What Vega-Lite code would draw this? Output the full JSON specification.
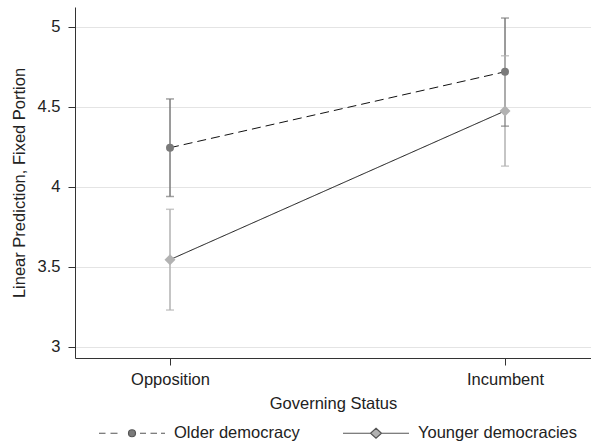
{
  "$schema": "https://vega.github.io/schema/vega-lite/v6.json",
  "width": 516,
  "height": 351,
  "autosize": {"type": "none"},
  "padding": {"left": 75, "top": 7, "right": 0, "bottom": 85},
  "background": "white",
  "config": {
    "font": "Liberation Sans",
    "view": {"stroke": null},
    "axis": {
      "domainColor": "#333333",
      "domainWidth": 1,
      "tickColor": "#333333",
      "tickSize": 7,
      "tickWidth": 1,
      "labelFont": "Liberation Sans",
      "labelFontSize": 16.5,
      "labelColor": "#222222",
      "titleFont": "Liberation Sans",
      "titleFontSize": 16.5,
      "titleFontWeight": "normal",
      "titleColor": "#222222"
    }
  },
  "data": {
    "values": [
      {"group": "Older democracy", "x": 0, "est": 4.245, "lo": 3.94, "hi": 4.55},
      {"group": "Older democracy", "x": 1, "est": 4.72, "lo": 4.38, "hi": 5.056},
      {"group": "Younger democracies", "x": 0, "est": 3.545, "lo": 3.23, "hi": 3.86},
      {"group": "Younger democracies", "x": 1, "est": 4.475, "lo": 4.13, "hi": 4.82}
    ]
  },
  "layer": [
    {
      "mark": {"type": "rule", "strokeWidth": 1.5},
      "encoding": {
        "x": {
          "field": "x", "type": "quantitative",
          "scale": {"domain": [-0.2836, 1.2567], "nice": false, "zero": false},
          "axis": {
            "title": "Governing Status",
            "values": [0, 1],
            "labelExpr": "datum.value == 0 ? 'Opposition' : 'Incumbent'",
            "grid": false,
            "labelFlush": false,
            "labelPadding": 6,
            "titlePadding": 8
          }
        },
        "y": {
          "field": "lo", "type": "quantitative",
          "scale": {"domain": [2.93, 5.125], "nice": false, "zero": false},
          "axis": {
            "title": "Linear Prediction, Fixed Portion",
            "values": [3, 3.5, 4, 4.5, 5],
            "format": "~g",
            "grid": true,
            "gridColor": "#e4e4e4",
            "gridWidth": 1,
            "labelPadding": 8,
            "titlePadding": 10
          }
        },
        "y2": {"field": "hi"},
        "color": {
          "field": "group", "type": "nominal",
          "scale": {"range": ["#7a7a7a", "#b2b2b2"]},
          "legend": null
        }
      }
    },
    {
      "mark": {"type": "tick", "orient": "horizontal", "size": 8, "thickness": 1.5},
      "encoding": {
        "x": {"field": "x", "type": "quantitative"},
        "y": {"field": "lo", "type": "quantitative"},
        "color": {"field": "group", "type": "nominal", "legend": null}
      }
    },
    {
      "mark": {"type": "tick", "orient": "horizontal", "size": 8, "thickness": 1.5},
      "encoding": {
        "x": {"field": "x", "type": "quantitative"},
        "y": {"field": "hi", "type": "quantitative"},
        "color": {"field": "group", "type": "nominal", "legend": null}
      }
    },
    {
      "mark": {"type": "line", "color": "#111111", "strokeWidth": 1},
      "encoding": {
        "x": {"field": "x", "type": "quantitative"},
        "y": {"field": "est", "type": "quantitative"},
        "detail": {"field": "group"},
        "strokeDash": {
          "field": "group", "type": "nominal",
          "scale": {"range": [[9, 5], [1, 0]]},
          "legend": null
        }
      }
    },
    {
      "transform": [{"filter": "datum.group == 'Older democracy'"}],
      "mark": {"type": "point", "shape": "circle", "filled": true, "opacity": 1, "size": 64, "color": "#7a7a7a"},
      "encoding": {
        "x": {"field": "x", "type": "quantitative"},
        "y": {"field": "est", "type": "quantitative"}
      }
    },
    {
      "transform": [{"filter": "datum.group == 'Younger democracies'"}],
      "mark": {"type": "point", "shape": "diamond", "filled": true, "opacity": 1, "size": 121, "color": "#b2b2b2"},
      "encoding": {
        "x": {"field": "x", "type": "quantitative"},
        "y": {"field": "est", "type": "quantitative"}
      }
    },
    {
      "mark": {"type": "point", "clip": true, "filled": true, "opacity": 1, "stroke": "#555555", "strokeWidth": 1.2},
      "encoding": {
        "x": {"field": "x", "type": "quantitative"},
        "y": {"datum": 10},
        "fill": {
          "field": "group", "type": "nominal",
          "scale": {
            "domain": ["Older democracy", "Younger democracies"],
            "range": ["#7a7a7a", "#b2b2b2"]
          },
          "legend": {
            "title": null,
            "orient": "none",
            "legendX": 23,
            "legendY": 415,
            "direction": "horizontal",
            "padding": 0,
            "symbolSize": 400,
            "symbolStrokeWidth": 1.2,
            "symbolOpacity": 1,
            "labelOffset": 54,
            "labelFont": "Liberation Sans",
            "labelFontSize": 16.5,
            "labelColor": "#222222",
            "columnPadding": 40
          }
        },
        "shape": {
          "field": "group", "type": "nominal",
          "scale": {
            "domain": ["Older democracy", "Younger democracies"],
            "range": [
              "M-1,0H-0.35M0.15,0H0.85M1.95,0A0.35,0.35 0 1,1 2.65,0A0.35,0.35 0 1,1 1.95,0ZM3.1,0H3.7M4.15,0H4.8M5.2,0H5.6",
              "M-1,0H1.75M2.85,0H5.6M2.3,-0.5L2.85,0L2.3,0.5L1.75,0Z"
            ]
          },
          "legend": {
            "title": null,
            "orient": "none",
            "legendX": 23,
            "legendY": 415,
            "direction": "horizontal",
            "padding": 0,
            "symbolSize": 400,
            "symbolStrokeWidth": 1.2,
            "symbolOpacity": 1,
            "symbolFillColor": "#7a7a7a",
            "labelOffset": 54,
            "labelFont": "Liberation Sans",
            "labelFontSize": 16.5,
            "labelColor": "#222222",
            "columnPadding": 40
          }
        }
      }
    }
  ]
}
